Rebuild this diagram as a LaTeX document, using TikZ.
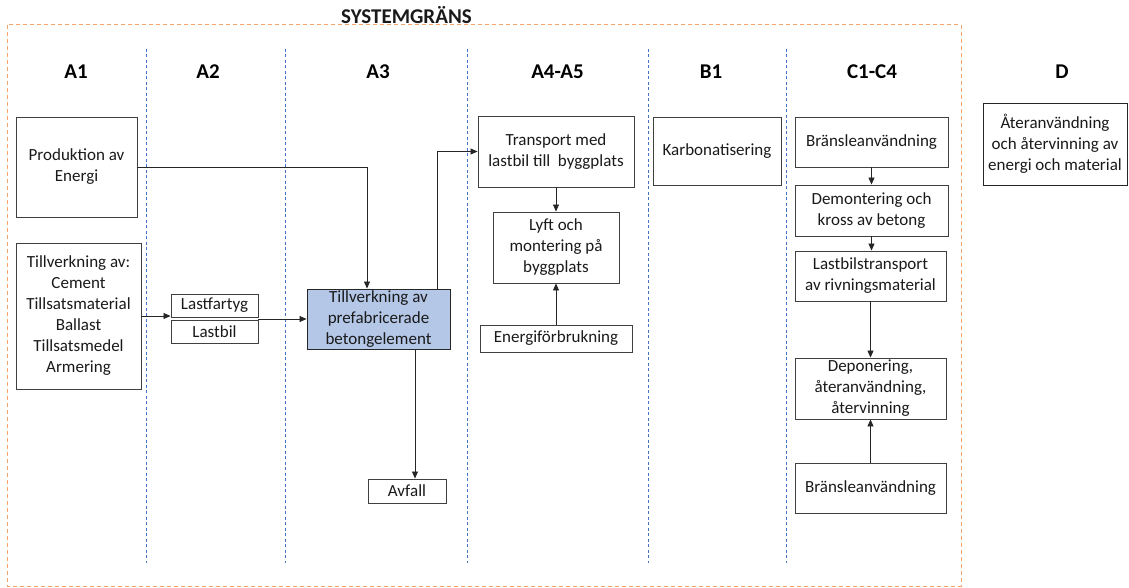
\documentclass[tikz,border=0pt]{standalone}
\usepackage{fontspec}
\setmainfont{Carlito}
\usetikzlibrary{arrows.meta}
\definecolor{boxline}{HTML}{404040}
\definecolor{txt}{HTML}{1A1A1A}
\definecolor{sepblue}{HTML}{4472C4}
\definecolor{bordorange}{HTML}{F4A36B}
\definecolor{prefabfill}{HTML}{B4C7E7}
\tikzset{
  procbox/.style={draw=boxline, line width=0.9pt, fill=white, align=center, inner sep=0pt,
    font=\fontsize{17}{21}\selectfont, text=txt},
  header/.style={font=\bfseries\fontsize{21}{24}\selectfont, text=black},
  conn/.style={draw=black!85, line width=0.8pt, -{Triangle[length=7pt,width=6pt]}},
  stage/.style={draw=sepblue, line width=1pt, dash pattern=on 3pt off 2.5pt},
}
\begin{document}
\begin{tikzpicture}[x=1pt,y=-1pt]
\useasboundingbox (0,0) rectangle (1129,588);
% system boundary
\draw[draw=bordorange, line width=1pt, dash pattern=on 4pt off 3pt] (7,25) rectangle (961,586);
\node[font=\bfseries\fontsize{21}{23}\selectfont, anchor=base, text=txt] (sys) at (406.5,24) {SYSTEMGRÄNS};
% stage separators
\foreach \xx in {146.5,285.5,467.5,648.5,786.5} \draw[stage] (\xx,49) -- (\xx,563);
% headers
\node[header] (hA1) at (76,72) {A1};
\node[header] (hA2) at (208,72) {A2};
\node[header] (hA3) at (378,72) {A3};
\node[header] (hA4) at (557.5,72) {A4-A5};
\node[header] (hB1) at (711,72) {B1};
\node[header] (hC) at (872,72) {C1-C4};
\node[header] (hD) at (1062,72) {D};
% boxes
\node[procbox, minimum width=121pt, minimum height=100pt] (prod) at (76.5,167) {Produktion av\\Energi};
\node[procbox, minimum width=125pt, minimum height=146pt] (till) at (78.5,316) {Tillverkning av:\\Cement\\Tillsatsmaterial\\Ballast\\Tillsatsmedel\\Armering};
\node[procbox, minimum width=87pt, minimum height=23pt] (lastf) at (214.5,305.5) {Lastfartyg};
\node[procbox, minimum width=87pt, minimum height=23pt] (lastb) at (214.5,331.5) {Lastbil};
\node[procbox, fill=prefabfill, draw=black!85, minimum width=143pt, minimum height=60pt] (prefab) at (378.5,319) {Tillverkning av\\prefabricerade\\betongelement};
\node[procbox, minimum width=78pt, minimum height=24pt] (avfall) at (407,491) {Avfall};
\node[procbox, minimum width=156pt, minimum height=71pt] (transp) at (556,151.5) {Transport med\\lastbil till\ \ byggplats};
\node[procbox, minimum width=126pt, minimum height=71pt] (lyft) at (556,247.5) {Lyft och\\montering på\\byggplats};
\node[procbox, minimum width=152pt, minimum height=27pt] (energi) at (556,338.5) {Energiförbrukning};
\node[procbox, minimum width=128pt, minimum height=68pt] (karb) at (717,151) {Karbonatisering};
\node[procbox, minimum width=153pt, minimum height=50pt] (br1) at (871.5,142) {Bränsleanvändning};
\node[procbox, minimum width=153pt, minimum height=51pt] (demo) at (871.5,210.5) {Demontering och\\kross av betong};
\node[procbox, minimum width=151pt, minimum height=50pt] (lbt) at (870.5,276) {Lastbilstransport\\av rivningsmaterial};
\node[procbox, minimum width=151pt, minimum height=61pt] (depo) at (870.5,388.5) {Deponering,\\återanvändning,\\återvinning};
\node[procbox, minimum width=151pt, minimum height=50pt] (br2) at (870.5,488) {Bränsleanvändning};
\node[procbox, draw=black!85, minimum width=144pt, minimum height=82pt] (ater) at (1055,144) {Återanvändning\\och återvinning av\\energi och material};
% connectors
\draw[conn] (prod.east) -| ([xshift=-11.5pt]prefab.north);
\draw[conn] (till.east) -- (till.east -| lastf.west);
\draw[conn] (prefab.west -| lastb.east) -- (prefab.west);
\draw[conn] ([xshift=58.5pt]prefab.north) |- (transp.west);
\draw[conn] ([xshift=8pt]avfall.north |- prefab.south) -- ([xshift=8pt]avfall.north);
\draw[conn] (transp.south) -- (lyft.north);
\draw[conn] (energi.north) -- (lyft.south);
\draw[conn] (br1.south) -- (demo.north -| br1.south);
\draw[conn] (demo.south) -- (lbt.north -| demo.south);
\draw[conn] (lbt.south) -- (depo.north);
\draw[conn] (br2.north) -- (depo.south);
\end{tikzpicture}
\end{document}
